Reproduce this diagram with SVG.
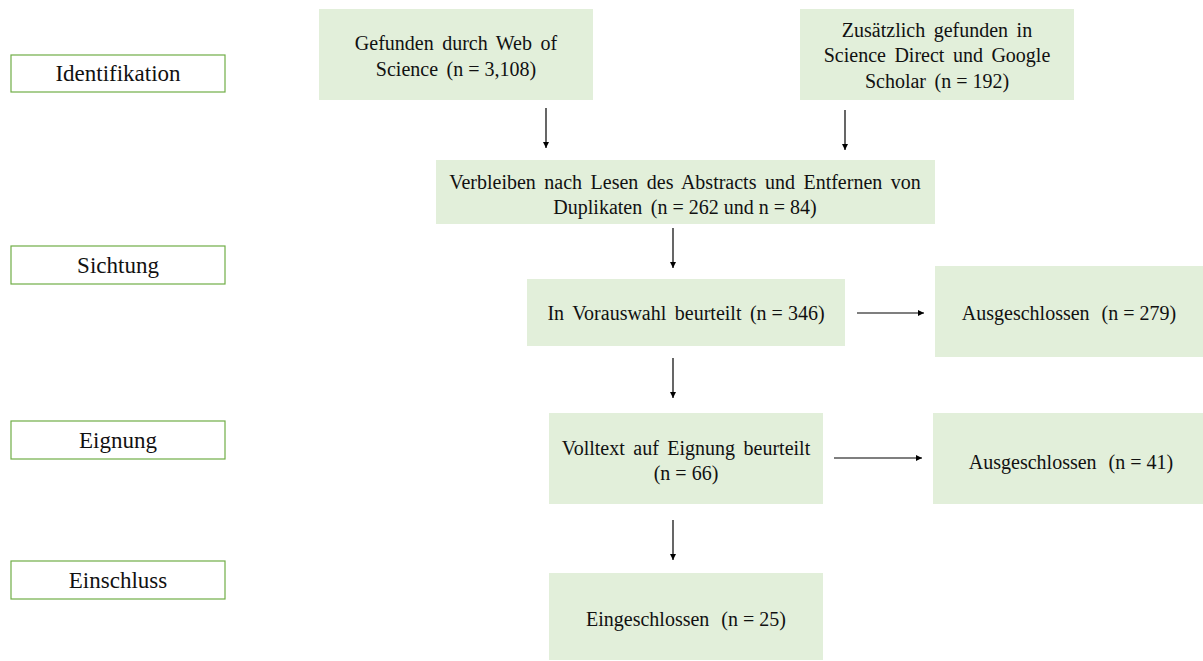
<svg xmlns="http://www.w3.org/2000/svg" width="1203" height="661" viewBox="0 0 1203 661">
<style>
.lab rect{fill:#fff;stroke:#70ad47;stroke-width:1.2}
.lab text{font-family:"Liberation Serif",serif;font-size:23px;fill:#111;text-anchor:middle}
.box rect{fill:#e2efda}
.box text{font-family:"Liberation Serif",serif;font-size:20px;word-spacing:3.5px;fill:#111;text-anchor:middle}
.box .n{word-spacing:0}
.box .w{word-spacing:7px}
#connectors line{stroke:#000;stroke-width:1.2;marker-end:url(#ah)}
</style>
<defs>
<marker id="ah" viewBox="0 0 10 10" refX="10" refY="5" markerWidth="6" markerHeight="6" orient="auto" markerUnits="userSpaceOnUse"><path d="M0,0 L10,5 L0,10 z" fill="#000"/></marker>
</defs>
<rect width="1203" height="661" fill="#fff"/>
<g id="lab-identifikation" class="lab"><rect x="11" y="55" width="214" height="37"/><text x="118" y="81">Identifikation</text></g>
<g id="lab-sichtung" class="lab"><rect x="11" y="246" width="214" height="38"/><text x="118" y="273">Sichtung</text></g>
<g id="lab-eignung" class="lab"><rect x="11" y="421" width="214" height="38"/><text x="118" y="448">Eignung</text></g>
<g id="lab-einschluss" class="lab"><rect x="11" y="561" width="214" height="38"/><text x="118" y="588">Einschluss</text></g>

<g id="n-wos" class="box"><rect x="319" y="9" width="274" height="91"/><text x="456" y="50">Gefunden durch Web of</text><text x="456" y="76">Science <tspan class="n">(n = 3,108)</tspan></text></g>
<g id="n-sd" class="box"><rect x="800" y="9" width="274" height="91"/><text x="937" y="37">Zusätzlich gefunden in</text><text x="937" y="62">Science Direct und Google</text><text x="937" y="88">Scholar <tspan class="n">(n = 192)</tspan></text></g>
<g id="n-verbleiben" class="box"><rect x="436" y="160" width="499" height="64"/><text x="685" y="189">Verbleiben nach Lesen des Abstracts und Entfernen von</text><text x="685" y="214">Duplikaten <tspan class="n">(n = 262 und n = 84)</tspan></text></g>
<g id="n-vorauswahl" class="box"><rect x="527" y="279" width="318" height="67"/><text x="686" y="320">In Vorauswahl beurteilt <tspan class="n">(n = 346)</tspan></text></g>
<g id="n-aus1" class="box"><rect x="935" y="266" width="268" height="91"/><text x="1069" y="320" class="w">Ausgeschlossen <tspan class="n">(n = 279)</tspan></text></g>
<g id="n-volltext" class="box"><rect x="549" y="413" width="274" height="91"/><text x="686" y="455">Volltext auf Eignung beurteilt</text><text x="686" y="480" class="n">(n = 66)</text></g>
<g id="n-aus2" class="box"><rect x="933" y="413" width="270" height="91"/><text x="1071" y="469" class="w">Ausgeschlossen <tspan class="n">(n = 41)</tspan></text></g>
<g id="n-einge" class="box"><rect x="549" y="573" width="274" height="87"/><text x="686" y="626" class="w">Eingeschlossen <tspan class="n">(n = 25)</tspan></text></g>

<g id="connectors">
<line x1="546" y1="108" x2="546" y2="148"/>
<line x1="845" y1="110" x2="845" y2="150"/>
<line x1="673" y1="228" x2="673" y2="268"/>
<line x1="673" y1="358" x2="673" y2="398"/>
<line x1="673" y1="520" x2="673" y2="560"/>
<line x1="857" y1="313" x2="924" y2="313"/>
<line x1="834" y1="458" x2="922" y2="458"/>
</g>
</svg>
